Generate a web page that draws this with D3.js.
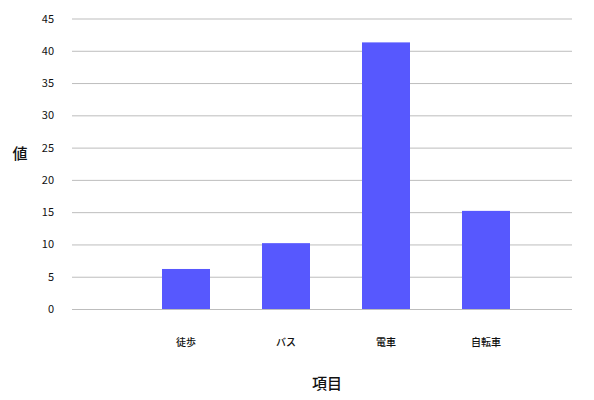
<!DOCTYPE html>
<html><head><meta charset="utf-8">
<script src="https://cdn.jsdelivr.net/npm/d3@7"></script>
<style>body{margin:0;background:#fff}</style>
</head><body>
<svg id="c" width="594" height="400"></svg>
<script>
const categories = ["徒歩", "バス", "電車", "自転車"];
const values = [6.2, 10.2, 41.3, 15.2];
const yTicks = [0, 5, 10, 15, 20, 25, 30, 35, 40, 45];
const xTitle = "項目";
const yTitle = "値";

const svg = d3.select("#c");
const font = "'Noto Sans CJK JP', 'Noto Sans', sans-serif";
const y = d3.scaleLinear().domain([0, 45]).range([309, 18.5]);
const x = d3.scaleBand().domain(categories).range([136, 536]).paddingInner(0.52).paddingOuter(0.26);

const gy = svg.append("g").attr("transform", "translate(72,0)")
  .call(d3.axisLeft(y).tickValues(yTicks).tickSize(-500).tickPadding(18));
gy.select(".domain").remove();
gy.selectAll(".tick line").attr("stroke", "#bdbdbd").attr("stroke-width", 1);
gy.selectAll(".tick text").attr("font-family", font).attr("font-size", 11).attr("fill", "#111");

svg.append("g").selectAll("rect").data(values).join("rect")
  .attr("x", (d, i) => x(categories[i]))
  .attr("width", x.bandwidth())
  .attr("y", d => y(d))
  .attr("height", d => y(0) - y(d))
  .attr("fill", "#5758fe");

const gx = svg.append("g").attr("transform", "translate(0,309)")
  .call(d3.axisBottom(x).tickSize(0).tickPadding(30));
gx.select(".domain").remove();
gx.selectAll(".tick text").attr("font-family", font).attr("font-size", 10).attr("font-weight", 500).attr("fill", "#111");

svg.append("text").attr("x", 327).attr("y", 389).attr("text-anchor", "middle")
  .attr("font-family", font).attr("font-size", 15).attr("font-weight", 500).attr("fill", "#111").text(xTitle);
svg.append("text").attr("x", 20).attr("y", 159).attr("text-anchor", "middle")
  .attr("font-family", font).attr("font-size", 15).attr("font-weight", 500).attr("fill", "#111").text(yTitle);
</script>
</body></html>
